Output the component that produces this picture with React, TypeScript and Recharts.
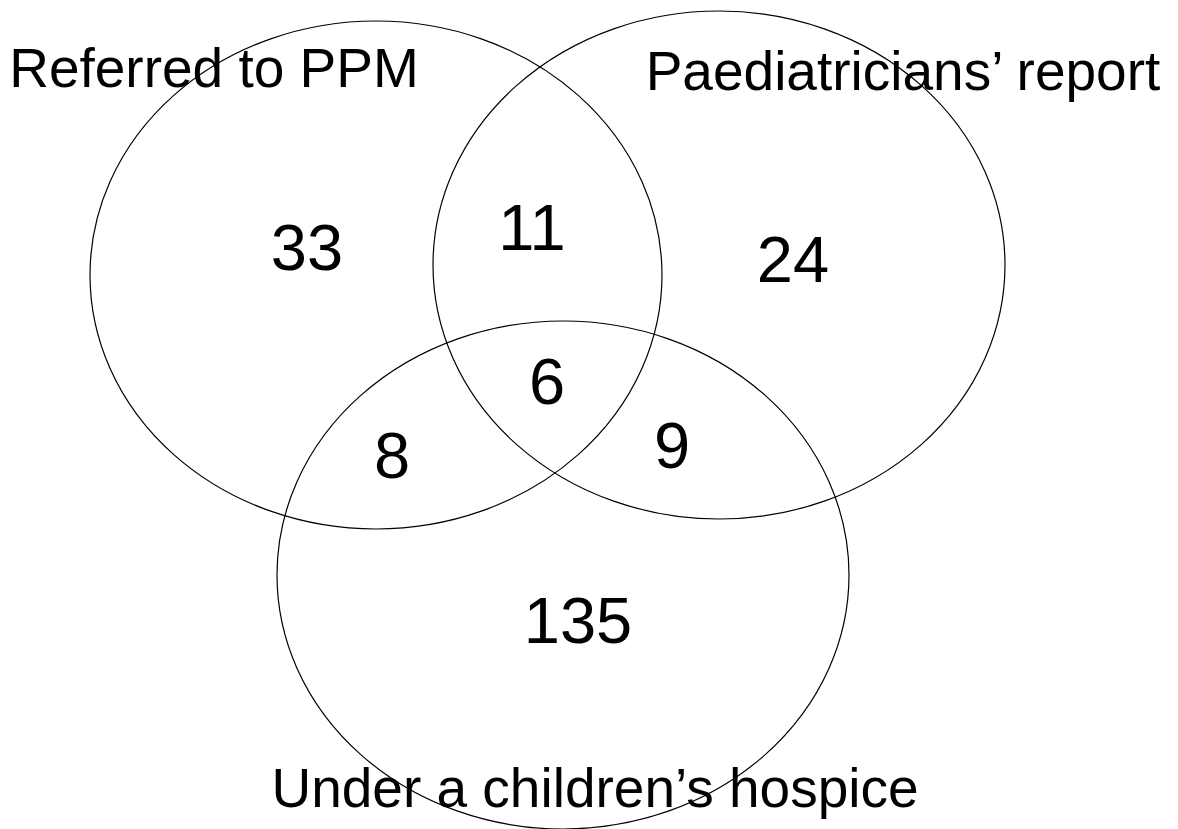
import React from "react";
import { ScatterChart, Scatter, XAxis, YAxis } from "recharts";

// data
const setNames = ["Referred to PPM", "Paediatricians’ report", "Under a children’s hospice"];
const regionNames = ["PPM only", "Paediatricians only", "Hospice only", "PPM + Paediatricians", "PPM + Hospice", "Paediatricians + Hospice", "All three"];
const regionCounts = [33, 24, 135, 11, 8, 9, 6];

// layout (chart units = pixels, y grows downwards)
const W = 1178;
const H = 829;
const circleX = [376, 719, 563];
const circleY = [275, 265, 575];
const RX = 286;
const RY = 254;
const setLabelX = [214, 903, 595];
const setLabelY = [87, 90, 807];
const regionX = [307, 793, 578, 532, 392, 672, 547];
const regionY = [270, 282, 643, 250, 478, 468, 404];

const circles = setNames.map((name, i) => ({ name, x: circleX[i], y: circleY[i] }));
const setLabels = setNames.map((name, i) => ({ name, x: setLabelX[i], y: setLabelY[i] }));
const regions = regionNames.map((name, i) => ({ name, value: regionCounts[i], x: regionX[i], y: regionY[i] }));

const FONT = "'Liberation Sans', Arial, sans-serif";

const Ellipse = (props: any) => (
  <ellipse cx={props.cx} cy={props.cy} rx={RX} ry={RY} fill="none" stroke="#000" strokeWidth={1.2} />
);

const SetLabel = (props: any) => (
  <text x={props.cx} y={props.cy} textAnchor="middle" fontFamily={FONT} fontSize={55} fill="#000">
    {props.payload.name}
  </text>
);

const CountLabel = (props: any) => (
  <text x={props.cx} y={props.cy} textAnchor="middle" fontFamily={FONT} fontSize={65} fill="#000">
    {props.payload.value}
  </text>
);

export default function App() {
  return (
    <div style={{ width: W, height: H, background: "#fff" }}>
      <style>{`body{margin:0;background:#fff}`}</style>
      <ScatterChart width={W} height={H} margin={{ top: 0, right: 0, bottom: 0, left: 0 }}>
        <XAxis type="number" dataKey="x" domain={[0, W]} hide />
        <YAxis type="number" dataKey="y" domain={[0, H]} reversed hide />
        <Scatter data={circles} shape={Ellipse} isAnimationActive={false} />
        <Scatter data={setLabels} shape={SetLabel} isAnimationActive={false} />
        <Scatter data={regions} shape={CountLabel} isAnimationActive={false} />
      </ScatterChart>
    </div>
  );
}
